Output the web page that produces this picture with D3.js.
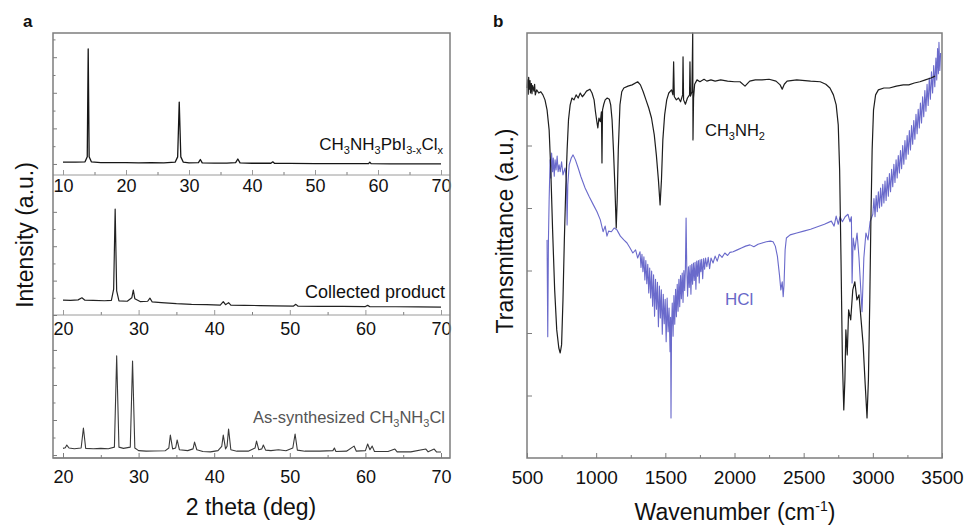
<!DOCTYPE html>
<html><head><meta charset="utf-8">
<script src="https://cdn.jsdelivr.net/npm/d3@7/dist/d3.min.js"></script>
<style>
body{margin:0;background:#fff;}
svg{display:block;font-family:"Liberation Sans",Arial,sans-serif;}
</style>
</head><body>
<svg id="c" width="967" height="525"></svg>
<script>
// ---------- DATA ----------
// Panel a: XRD patterns, [2theta (deg), intensity (a.u.)]
const perovskiteXRD = [[10,0.10],[12,0.10],[13.5,0.12],[13.85,0.4],[14.0,6.46],[14.15,0.4],[14.5,0.12],[16,0.08],[18,0.07],[20,0.08],[22,0.06],[24,0.07],[26,0.06],[27.8,0.1],[28.2,0.4],[28.45,3.48],[28.7,0.4],[29.1,0.1],[30,0.06],[31.5,0.08],[31.8,0.25],[32.1,0.06],[34,0.05],[36,0.05],[37.4,0.08],[37.75,0.28],[38.1,0.06],[40,0.04],[43,0.04],[43.3,0.12],[43.6,0.03],[46,0.03],[50,0.02],[55,0.02],[58.5,0.02],[58.7,0.1],[58.9,0.02],[62,0.01],[66,0.0],[70,0.0]];
const collectedXRD = [[20,0.87],[21,0.85],[22,0.88],[22.5,1.0],[22.9,0.86],[24,0.85],[25.5,0.83],[26.4,0.85],[26.7,1.5],[26.9,6.16],[27.1,1.4],[27.4,0.82],[28.5,0.8],[29.1,1.0],[29.3,1.45],[29.5,0.95],[30.2,0.78],[31.2,0.8],[31.5,0.98],[31.8,0.76],[33,0.72],[35,0.66],[37,0.62],[39,0.6],[40.8,0.58],[41.2,0.78],[41.5,0.6],[41.9,0.72],[42.2,0.57],[44,0.56],[46,0.55],[48,0.53],[50.5,0.52],[50.8,0.62],[51.1,0.51],[54,0.5],[57,0.5],[60,0.49],[60.3,0.56],[60.6,0.48],[64,0.48],[67,0.47],[70,0.46]];
const maclXRD = [[20,0.38],[20.3,0.42],[20.5,0.57],[20.8,0.4],[21.5,0.36],[22.4,0.4],[22.7,1.54],[23.0,0.38],[24,0.36],[25,0.38],[26,0.36],[26.8,0.45],[27.1,5.66],[27.4,0.45],[28,0.38],[28.9,0.45],[29.2,5.37],[29.5,0.4],[30,0.25],[31,0.22],[32,0.23],[33.5,0.24],[34.0,0.4],[34.2,1.14],[34.5,0.35],[34.9,0.4],[35.1,0.86],[35.4,0.3],[36.5,0.25],[37.2,0.35],[37.4,0.74],[37.7,0.3],[38.5,0.2],[39.5,0.18],[40.5,0.25],[41.0,0.5],[41.2,1.14],[41.5,0.35],[41.7,0.5],[41.9,1.49],[42.2,0.3],[43,0.22],[44.5,0.22],[45.4,0.4],[45.6,0.8],[45.9,0.3],[46.3,0.35],[46.5,0.57],[46.8,0.28],[47.5,0.25],[48.5,0.3],[49.5,0.24],[50.4,0.4],[50.7,1.2],[51.0,0.28],[52,0.22],[54,0.22],[55.7,0.25],[55.9,0.4],[56.1,0.2],[57.5,0.22],[58.5,0.51],[58.8,0.22],[60,0.25],[60.3,0.63],[60.6,0.3],[60.9,0.51],[61.2,0.2],[63,0.2],[63.9,0.34],[64.2,0.18],[66,0.18],[68,0.34],[68.3,0.18],[69.1,0.34],[69.4,0.18],[70,0.17]];

// Panel b: FTIR, [wavenumber (cm-1), transmittance (a.u.)]
const ch3nh2IR = [[500,59.2],[505,60.5],[509,58.2],[512,60.9],[518,59.0],[522,60.4],[525,58.4],[532,59.9],[536,58.3],[540,59.6],[550,58.7],[555,59.8],[560,58.1],[570,58.9],[585,58.4],[600,58.6],[615,58.1],[630,57.3],[645,55.7],[660,52.5],[672,46.1],[685,36.5],[700,26.9],[715,20.5],[730,17.6],[740,16.8],[750,18.1],[760,25.3],[770,34.9],[780,42.9],[790,49.3],[800,54.1],[812,56.5],[825,57.6],[840,57.3],[855,58.1],[870,57.6],[885,58.4],[900,57.8],[915,58.2],[930,58.7],[955,59.0],[970,58.4],[985,57.3],[995,55.4],[1005,53.8],[1012,52.8],[1020,54.4],[1030,53.8],[1038,55.4],[1042,47.2],[1046,55.7],[1055,56.6],[1065,57.3],[1080,57.6],[1095,57.4],[1105,56.5],[1115,54.1],[1125,49.3],[1135,43.7],[1145,36.8],[1152,41.3],[1160,49.3],[1172,56.5],[1185,58.6],[1200,59.2],[1230,59.5],[1260,59.7],[1300,60.2],[1320,59.7],[1340,58.6],[1360,57.3],[1380,56.0],[1400,54.4],[1420,51.7],[1435,48.5],[1450,44.5],[1462,40.5],[1472,44.5],[1482,50.9],[1495,54.9],[1510,57.3],[1525,58.4],[1545,58.9],[1555,58.1],[1560,63.4],[1565,57.8],[1580,57.3],[1595,57.6],[1610,57.0],[1625,58.1],[1628,64.2],[1632,57.3],[1645,56.6],[1660,57.6],[1675,58.1],[1678,63.4],[1682,57.9],[1692,58.6],[1698,68.0],[1700,50.9],[1704,57.6],[1712,59.8],[1729,60.5],[1750,60.2],[1780,60.6],[1800,60.3],[1830,60.5],[1860,60.3],[1900,60.5],[1950,60.3],[2000,60.2],[2040,60.2],[2076,59.5],[2110,60.3],[2150,60.5],[2200,60.5],[2250,60.6],[2300,60.3],[2330,59.7],[2345,59.0],[2360,59.8],[2380,60.3],[2450,60.5],[2550,60.3],[2620,60.2],[2660,59.8],[2690,59.2],[2715,58.1],[2735,56.5],[2750,53.3],[2760,46.1],[2770,31.7],[2780,15.7],[2790,7.7],[2798,12.5],[2805,20.5],[2815,16.5],[2825,23.7],[2840,22.1],[2855,26.9],[2870,28.2],[2885,25.3],[2900,26.1],[2915,22.1],[2930,18.1],[2945,11.7],[2958,6.4],[2968,12.5],[2978,25.3],[2986,38.1],[2995,49.3],[3005,55.7],[3020,58.1],[3040,58.9],[3080,59.2],[3120,59.2],[3170,59.5],[3220,59.7],[3260,59.7],[3300,60.0],[3340,60.2],[3380,60.5],[3420,60.8],[3450,61.1]];
const hclIR = [[645,34.9],[650,19.4],[655,34.9],[660,41.3],[667,47.7],[672,44.8],[678,48.8],[685,45.8],[690,48.0],[697,45.1],[703,47.7],[710,46.1],[718,48.3],[725,45.8],[732,46.9],[740,45.8],[750,47.4],[760,45.3],[775,46.4],[785,44.5],[790,37.3],[795,43.7],[805,46.9],[820,48.0],[833,48.5],[850,47.7],[870,46.4],[890,45.0],[920,43.2],[950,41.8],[980,40.5],[1006,39.4],[1030,38.1],[1050,36.2],[1065,37.1],[1078,35.5],[1090,36.3],[1110,36.2],[1130,36.8],[1150,36.5],[1175,35.5],[1200,34.9],[1223,34.4],[1245,33.6],[1265,32.8],[1285,33.3],[1300,32.0],[1317,33.0],[1324,30.5],[1331,32.6],[1338,29.8],[1345,32.2],[1352,28.5],[1359,31.6],[1366,27.9],[1373,31.0],[1380,26.4],[1387,30.4],[1394,25.6],[1401,29.9],[1408,24.3],[1415,29.3],[1422,22.7],[1429,28.6],[1436,23.8],[1443,28.1],[1450,21.0],[1457,27.5],[1464,22.4],[1471,26.9],[1478,19.8],[1485,26.2],[1492,21.5],[1499,25.4],[1506,18.6],[1513,25.6],[1520,20.2],[1527,24.0],[1534,17.0],[1538,22.5],[1541,6.4],[1545,21.0],[1550,24.8],[1556,19.5],[1562,26.0],[1568,21.4],[1574,27.0],[1580,22.6],[1586,27.8],[1592,23.5],[1598,28.6],[1604,24.2],[1610,29.2],[1616,25.5],[1622,29.6],[1628,24.9],[1634,30.0],[1640,26.8],[1645,30.2],[1650,38.4],[1655,30.4],[1661,25.9],[1667,30.6],[1673,27.3],[1679,30.8],[1685,26.2],[1691,31.0],[1697,27.8],[1703,31.2],[1709,28.4],[1715,31.3],[1721,27.0],[1727,31.5],[1733,29.1],[1739,31.6],[1745,28.0],[1751,31.7],[1757,29.8],[1763,31.8],[1770,28.7],[1777,31.9],[1784,30.2],[1791,32.0],[1800,30.6],[1810,32.1],[1820,30.3],[1830,32.0],[1845,31.2],[1860,32.3],[1875,31.5],[1890,32.6],[1910,32.1],[1930,32.8],[1950,32.4],[1967,32.9],[1990,33.0],[2020,33.3],[2050,33.6],[2080,33.9],[2112,34.1],[2140,33.8],[2170,34.2],[2200,34.4],[2230,34.6],[2260,34.7],[2279,34.6],[2295,33.9],[2310,32.3],[2325,29.3],[2335,26.9],[2345,28.2],[2352,25.8],[2358,27.7],[2366,33.3],[2375,35.2],[2402,35.7],[2450,36.0],[2500,36.3],[2550,36.6],[2600,37.0],[2650,37.4],[2700,37.9],[2720,37.1],[2735,38.7],[2750,37.4],[2763,38.6],[2780,37.8],[2800,38.6],[2820,39.0],[2835,37.8],[2845,38.6],[2850,28.0],[2858,35.2],[2870,33.3],[2886,36.0],[2900,32.0],[2922,23.4],[2935,32.0],[2950,36.0],[2965,34.9],[2980,37.8],[3000,39.0],[3008,41.5],[3016,38.6],[3024,42.0],[3032,39.4],[3040,42.6],[3048,40.0],[3056,43.2],[3064,40.3],[3072,43.8],[3080,40.8],[3088,44.3],[3096,41.2],[3104,44.9],[3112,41.9],[3120,45.5],[3128,42.6],[3136,46.2],[3144,43.4],[3152,47.0],[3160,44.1],[3168,47.7],[3176,44.8],[3184,48.4],[3192,45.6],[3200,49.2],[3208,46.3],[3216,50.0],[3224,47.0],[3232,50.8],[3240,47.8],[3248,51.6],[3256,48.6],[3264,52.4],[3272,49.3],[3280,53.2],[3288,50.2],[3296,54.0],[3304,51.0],[3312,55.0],[3320,51.9],[3328,55.8],[3336,52.8],[3344,56.8],[3352,53.6],[3360,57.8],[3368,54.6],[3376,58.8],[3384,55.5],[3392,59.8],[3400,56.4],[3408,60.8],[3416,57.4],[3424,61.8],[3432,58.4],[3440,62.8],[3448,59.4],[3456,64.0],[3462,60.5],[3468,65.5],[3474,61.5],[3478,66.5],[3484,62.0],[3490,64.8]];

// Tick labels
const thetaTicksTop = [10,20,30,40,50,60,70];
const thetaTicks = [20,30,40,50,60,70];
const waveTicks = [500,1000,1500,2000,2500,3000,3500];

// ---------- DRAW ----------
const svg = d3.select("#c");
const frameColor = "#7d7d7d";
const fontFam = '"Liberation Sans",Arial,sans-serif';

function styleAxis(g, color){
  g.selectAll(".domain").attr("stroke", color).attr("stroke-width",1);
  g.selectAll(".tick line").attr("stroke", color).attr("stroke-width",1);
  g.selectAll("text").attr("fill","#111").attr("font-family",fontFam);
}
function range(a,b,s){const r=[];for(let v=a;v<=b+1e-9;v+=s)r.push(+v.toFixed(6));return r;}

// ---- Panel a ----
const aL = 53, aR = 450, aT = 33, aB = 458;
const subPanels = [
  {data: perovskiteXRD, xd:[10,70], ticks: thetaTicksTop, minorStep:5, axisY:175, ydom:[-0.62,7.36], yr:[175,33], yt:7, pad:4, color:"#161616", width:1.3},
  {data: collectedXRD, xd:[20,70], ticks: thetaTicks, minorStep:5, axisY:315, ydom:[0,6.98], yr:[315,195], yt:6, pad:7, color:"#222", width:1.2},
  {data: maclXRD, xd:[20,70], ticks: thetaTicks, minorStep:5, axisY:458, ydom:[-0.17,6.74], yr:[458,337], yt:6, pad:12, color:"#3a3a3a", width:1.1}
];
subPanels.forEach((p,i)=>{
  const x = d3.scaleLinear().domain(p.xd).range([63,441]);
  const y = d3.scaleLinear().domain(p.ydom).range(p.yr);
  const minor = range(p.xd[0], p.xd[1], p.minorStep).filter(v=>!p.ticks.includes(v));
  const gm = svg.append("g").attr("transform",`translate(0,${p.axisY})`)
    .call(d3.axisBottom(x).tickValues(minor).tickSize(-3).tickSizeOuter(0).tickFormat(""));
  gm.select(".domain").remove(); styleAxis(gm, frameColor);
  const gx = svg.append("g").attr("transform",`translate(0,${p.axisY})`)
    .call(d3.axisBottom(x).tickValues(p.ticks).tickSize(-5).tickSizeOuter(0).tickPadding(p.pad).tickFormat(d3.format("d")));
  gx.select(".domain").attr("d",`M${aL},0H${aR}`);
  styleAxis(gx, i<2 ? "#9a9a9a" : frameColor);
  gx.selectAll("text").attr("font-size",18);
  const yv = range(0,p.yt,1);
  const gy1 = svg.append("g").attr("transform",`translate(${aL},0)`)
    .call(d3.axisRight(y).tickValues(yv.filter(v=>v%2===0)).tickSize(4).tickFormat(""));
  gy1.select(".domain").remove(); styleAxis(gy1, frameColor);
  const gy2 = svg.append("g").attr("transform",`translate(${aL},0)`)
    .call(d3.axisRight(y).tickValues(yv.filter(v=>v%2===1)).tickSize(2.5).tickFormat(""));
  gy2.select(".domain").remove(); styleAxis(gy2, frameColor);
  svg.append("path").datum(p.data)
    .attr("fill","none").attr("stroke",p.color).attr("stroke-width",p.width).attr("stroke-linejoin","round")
    .attr("d", d3.line().x(d=>x(d[0])).y(d=>y(d[1])));
});
svg.append("rect").attr("x",aL).attr("y",aT).attr("width",aR-aL).attr("height",aB-aT)
  .attr("fill","none").attr("stroke",frameColor).attr("stroke-width",1.5);

function subText(sel, parts, size, subSize){
  parts.forEach(pt=>{
    if (pt.sub) sel.append("tspan").attr("font-size",subSize).attr("dy",4).text(pt.t);
    else sel.append("tspan").attr("font-size",size).attr("dy", pt.after ? -4 : 0).text(pt.t);
  });
}
const l1 = svg.append("text").attr("x",443).attr("y",150).attr("text-anchor","end").attr("fill","#111").attr("font-size",17);
subText(l1,[{t:"CH"},{t:"3",sub:1},{t:"NH",after:1},{t:"3",sub:1},{t:"PbI",after:1},{t:"3-x",sub:1},{t:"Cl",after:1},{t:"x",sub:1}],17,11);
svg.append("text").attr("x",445).attr("y",298).attr("text-anchor","end").attr("fill","#111").attr("font-size",18).text("Collected product");
const l3 = svg.append("text").attr("x",445).attr("y",423).attr("text-anchor","end").attr("fill","#555").attr("font-size",16.5);
subText(l3,[{t:"As-synthesized CH"},{t:"3",sub:1},{t:"NH",after:1},{t:"3",sub:1},{t:"Cl",after:1}],16.5,11);

svg.append("text").attr("x",251).attr("y",515).attr("text-anchor","middle").attr("font-size",23).attr("fill","#111").text("2 theta (deg)");
svg.append("text").attr("transform","translate(33,235) rotate(-90)").attr("text-anchor","middle").attr("font-size",23).attr("fill","#111").text("Intensity (a.u.)");
svg.append("text").attr("x",23).attr("y",27).attr("font-size",17).attr("font-weight","bold").attr("fill","#111").text("a");

// ---- Panel b ----
const bL = 527, bR = 942, bT = 33, bB = 458;
const xb = d3.scaleLinear().domain([500,3500]).range([bL,bR]);
const yb = d3.scaleLinear().domain([0,68]).range([bB,bT]);

const gbm = svg.append("g").attr("transform",`translate(0,${bB})`)
  .call(d3.axisBottom(xb).tickValues(range(750,3250,500)).tickSize(-3).tickFormat(""));
gbm.select(".domain").remove(); styleAxis(gbm, frameColor);
const gbx = svg.append("g").attr("transform",`translate(0,${bB})`)
  .call(d3.axisBottom(xb).tickValues(waveTicks).tickSize(-5).tickSizeOuter(0).tickPadding(13).tickFormat(d3.format("d")));
gbx.select(".domain").remove(); styleAxis(gbx, frameColor);
gbx.selectAll("text").attr("font-size",19);
const gby = svg.append("g").attr("transform",`translate(${bL},0)`)
  .call(d3.axisRight(yb).tickValues([10,20,30,40,50,60]).tickSize(5).tickFormat(""));
gby.select(".domain").remove(); styleAxis(gby, frameColor);

svg.append("path").datum(hclIR).attr("fill","none").attr("stroke","#6a6acb").attr("stroke-width",1.1)
  .attr("stroke-linejoin","round").attr("d", d3.line().x(d=>xb(d[0])).y(d=>yb(d[1])));
svg.append("path").datum(ch3nh2IR).attr("fill","none").attr("stroke","#1e1e1e").attr("stroke-width",1.2)
  .attr("stroke-linejoin","round").attr("d", d3.line().x(d=>xb(d[0])).y(d=>yb(d[1])));

svg.append("rect").attr("x",bL).attr("y",bT).attr("width",bR-bL).attr("height",bB-bT)
  .attr("fill","none").attr("stroke",frameColor).attr("stroke-width",1.5);

const lb1 = svg.append("text").attr("x",705).attr("y",136).attr("fill","#111").attr("font-size",16.5);
subText(lb1,[{t:"CH"},{t:"3",sub:1},{t:"NH",after:1},{t:"2",sub:1}],16.5,11);
svg.append("text").attr("x",725).attr("y",305).attr("fill","#6868c8").attr("font-size",17).text("HCl");

const wl = svg.append("text").attr("x",735).attr("y",520).attr("text-anchor","middle").attr("font-size",23).attr("fill","#111");
wl.append("tspan").text("Wavenumber (cm");
wl.append("tspan").attr("font-size",14).attr("dy",-9).text("-1");
wl.append("tspan").attr("dy",9).text(")");
svg.append("text").attr("transform","translate(513,231) rotate(-90)").attr("text-anchor","middle").attr("font-size",23).attr("fill","#111").text("Transmittance (a.u.)");
svg.append("text").attr("x",493).attr("y",27).attr("font-size",17).attr("font-weight","bold").attr("fill","#111").text("b");
</script>
</body></html>
